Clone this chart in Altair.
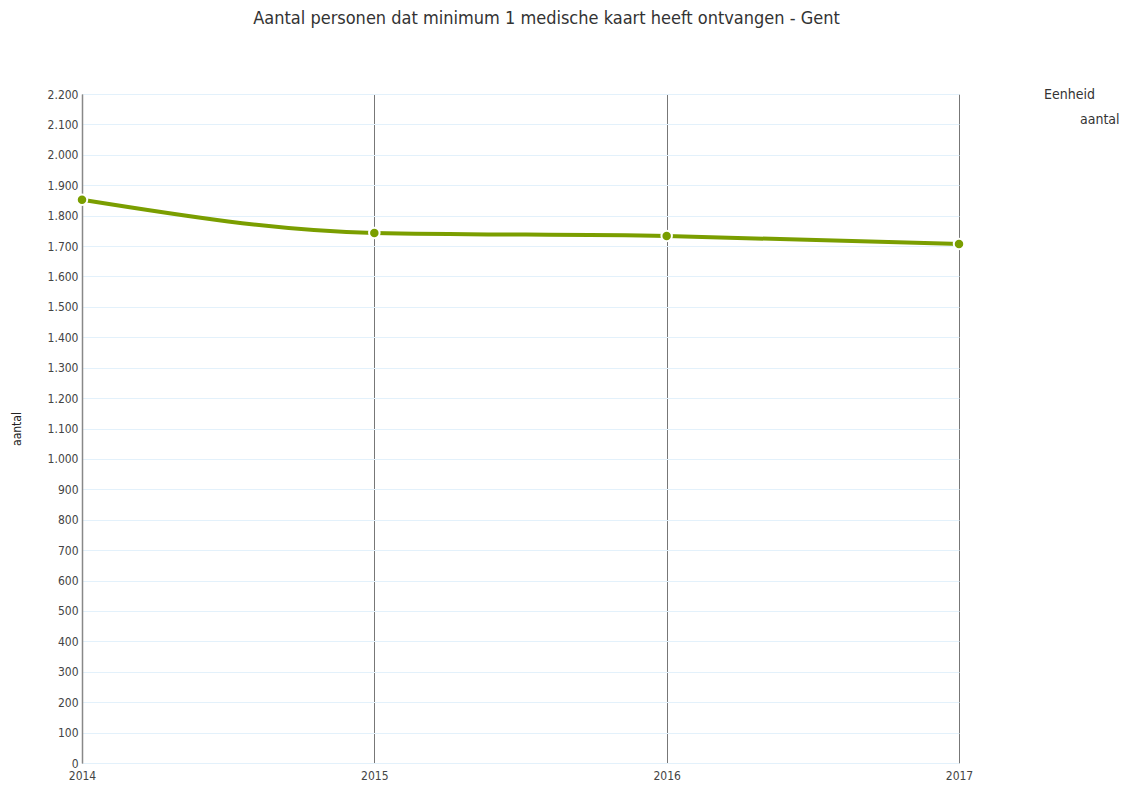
import altair as alt
import pandas as pd

years = [2014, 2015, 2016, 2017]
values = [1852, 1743, 1733, 1707]
unit = ["aantal", "aantal", "aantal", "aantal"]

df = pd.DataFrame({"jaar": years, "waarde": values, "Eenheid": unit})

FONT = "DejaVu Sans Condensed, Liberation Sans Narrow, Roboto, sans-serif"
GREEN = "#7a9e00"

x = alt.X("jaar:Q", scale=alt.Scale(domain=[2014, 2017], nice=False, zero=False),
          axis=alt.Axis(values=years, format="d", title=None, grid=True,
                        gridColor="#777777", gridWidth=1, domain=False, ticks=False,
                        labelFont=FONT, labelFontSize=12, labelColor="#444444",
                        labelPadding=7, labelFlush=False))
y = alt.Y("waarde:Q", scale=alt.Scale(domain=[0, 2200], nice=False),
          axis=alt.Axis(values=list(range(0, 2201, 100)), title="aantal",
                        labelExpr="replace(format(datum.value, ','), ',', '.')",
                        grid=True, gridColor="#e3f1fb", gridWidth=1,
                        domain=True, domainColor="#888888", domainWidth=1.5,
                        ticks=False, labelFont=FONT, labelFontSize=12, labelColor="#444444",
                        labelPadding=4, titleFont=FONT, titleFontSize=12,
                        titleFontWeight="normal", titleColor="#222222", titlePadding=24))

color = alt.Color("Eenheid:N", scale=alt.Scale(range=[GREEN]),
                  legend=alt.Legend(orient="none", legendX=962, legendY=-6,
                                    titleFont=FONT, titleFontSize=14, titleFontWeight="normal",
                                    titleColor="#333333", labelFont=FONT, labelFontSize=14,
                                    labelColor="#333333", symbolType="square",
                                    symbolOpacity=0, symbolSize=200, symbolOffset=10,
                                    labelOffset=10, labelLimit=100, titlePadding=10))

base = alt.Chart(df).encode(x=x, y=y, color=color)
line = base.mark_line(interpolate="monotone", strokeWidth=4, color=GREEN, clip=False)
pts = base.mark_point(filled=True, size=110, fill=GREEN, stroke="white", strokeWidth=2,
                      opacity=1, clip=False)

chart = (line + pts).properties(
    width=877, height=669,
    autosize=alt.AutoSizeParams(type="none"),
    padding={"left": 74, "top": 86, "right": 162, "bottom": 21},
    title=alt.TitleParams("Aantal personen dat minimum 1 medische kaart heeft ontvangen - Gent",
                          font=FONT, fontSize=18, fontWeight="normal", color="#333333",
                          anchor="middle", dx=26, offset=60),
).configure_view(stroke=None)

chart.save("out.html", embed_options={"renderer": "svg", "actions": False})
